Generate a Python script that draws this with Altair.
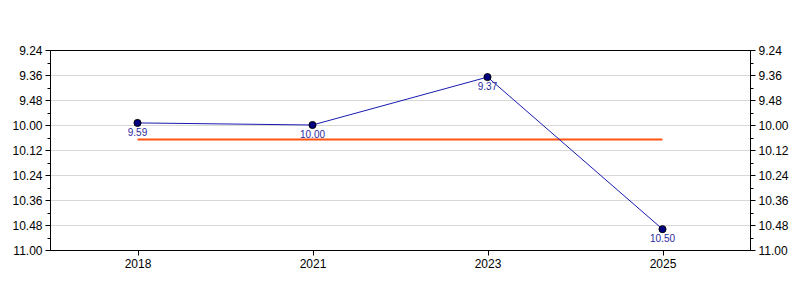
import altair as alt
import pandas as pd

years = ["2018", "2021", "2023", "2025"]
times = ["9.59", "10.00", "9.37", "10.50"]   # minutes.seconds
ref_time = "10.07"
tick_labels = ["9.24", "9.36", "9.48", "10.00", "10.12", "10.24", "10.36", "10.48", "11.00"]


def to_sec(s):
    m, ss = s.split(".")
    return int(m) * 60 + int(ss)


secs = [to_sec(t) for t in times]
major = [to_sec(t) for t in tick_labels]
minor = [a + (b - a) // 2 for a, b in zip(major[:-1], major[1:])]
ref = to_sec(ref_time)

df = pd.DataFrame({"year": years, "sec": secs, "label": times})
ref_df = pd.DataFrame({"year": [years[0], years[-1]], "sec": [ref, ref]})

label_expr = "floor(datum.value/60) + '.' + (datum.value % 60 < 10 ? '0' : '') + (datum.value % 60)"
yscale = alt.Scale(domain=[major[0], major[-1]], reverse=True, nice=False, zero=False)
xenc = alt.X("year:N", sort=years, scale=alt.Scale(type="point", padding=0.5),
             axis=alt.Axis(title=None, labelAngle=0, tickSize=5, domainColor="black",
                           tickColor="black", labelColor="black", labelFontSize=12,
                           labelFont="Liberation Sans", labelPadding=3, grid=False))

left_axis = alt.Axis(title=None, orient="left", values=major, labelExpr=label_expr,
                     tickSize=5, grid=True,
                     gridColor={"condition": {"test": f"datum.value == {major[0]}", "value": "black"},
                                "value": "#d8d8d8"},
                     domainColor="black",
                     tickColor="black", labelColor="black", labelFontSize=12,
                     labelFont="Liberation Sans", labelPadding=3)
right_axis = alt.Axis(title=None, orient="right", values=major, labelExpr=label_expr,
                      tickSize=5, grid=False, domainColor="black", tickColor="black",
                      labelColor="black", labelFontSize=12, labelFont="Liberation Sans",
                      labelPadding=3)
minor_left = alt.Axis(title=None, orient="left", values=minor, labels=False, tickSize=3,
                      grid=False, domain=False, tickColor="black")
minor_right = alt.Axis(title=None, orient="right", values=minor, labels=False, tickSize=3,
                       grid=False, domain=False, tickColor="black")

base = alt.Chart(df)

line = base.mark_line(color="#1a1ab0", strokeWidth=1).encode(
    x=xenc, y=alt.Y("sec:Q", scale=yscale, axis=left_axis))
rline = base.mark_line(opacity=0).encode(
    x=xenc, y=alt.Y("sec:Q", scale=yscale, axis=right_axis))
mleft = base.mark_line(opacity=0).encode(
    x=xenc, y=alt.Y("sec:Q", scale=yscale, axis=minor_left))
mright = base.mark_line(opacity=0).encode(
    x=xenc, y=alt.Y("sec:Q", scale=yscale, axis=minor_right))
refline = alt.Chart(ref_df).mark_line(color="#ff5511", strokeWidth=2).encode(
    x=xenc, y=alt.Y("sec:Q", scale=yscale, axis=None))
points = base.mark_point(filled=True, size=50, color="#000080", stroke="black",
                         strokeWidth=1, opacity=1).encode(
    x=xenc, y=alt.Y("sec:Q", scale=yscale, axis=None))
labels = base.mark_text(dy=10, color="#2a2aa0", fontSize=10, font="Liberation Sans").encode(
    x=xenc, y=alt.Y("sec:Q", scale=yscale, axis=None), text="label:N")

chart = alt.layer(mleft, mright, rline, refline, line, points, labels).resolve_axis(
    y="independent"
).properties(
    width=700, height=200,
    background="white",
    autosize=alt.AutoSizeParams(type="none"),
    padding={"left": 50, "top": 50, "right": 50, "bottom": 50},
).configure_view(stroke="black", strokeWidth=1)

chart.save("out.html", embed_options={"renderer": "svg", "actions": False})
